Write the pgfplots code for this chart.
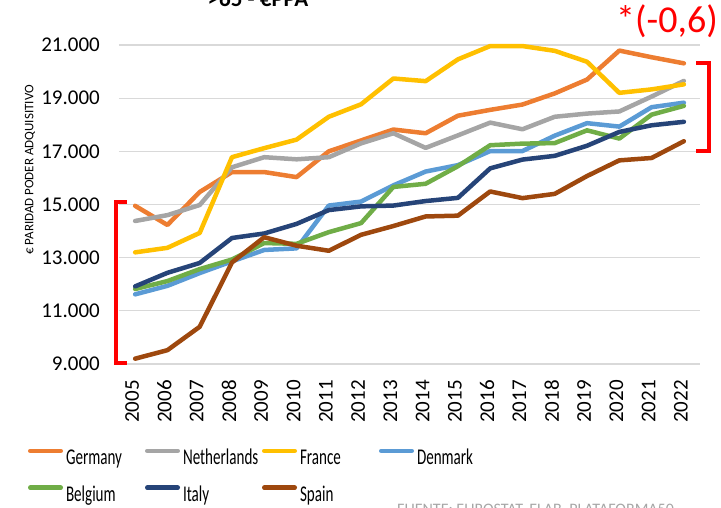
\documentclass[border=0pt]{standalone}
\usepackage{pgfplots}
\pgfplotsset{compat=1.18}
\usepackage{fontspec}
\setmainfont{Carlito}
\newfontfamily\legfont[FakeStretch=0.67]{Carlito}
\definecolor{cGer}{HTML}{ED7D31}
\definecolor{cNet}{HTML}{A5A5A5}
\definecolor{cFra}{HTML}{FFC000}
\definecolor{cDen}{HTML}{5B9BD5}
\definecolor{cBel}{HTML}{70AD47}
\definecolor{cIta}{HTML}{264478}
\definecolor{cSpa}{HTML}{9E480E}
\definecolor{gridgray}{HTML}{D9D9D9}
\definecolor{srcgray}{HTML}{A6A6A6}
\begin{document}
\begin{tikzpicture}[x=1pt,y=1pt]
\begin{axis}[
  at={(119pt,143pt)}, anchor=south west,
  width=581pt, height=319pt, scale only axis,
  xmin=2004.5, xmax=2022.5, ymin=9000, ymax=21000,
  axis line style={draw=none},
  clip=false,
  scaled y ticks=false,
  ytick={9000,11000,13000,15000,17000,19000,21000},
  yticklabels={9.000,11.000,13.000,15.000,17.000,19.000,21.000},
  xtick={2005,2006,2007,2008,2009,2010,2011,2012,2013,2014,2015,2016,2017,2018,2019,2020,2021,2022},
  xticklabels={2005,2006,2007,2008,2009,2010,2011,2012,2013,2014,2015,2016,2017,2018,2019,2020,2021,2022},
  major tick length=0pt,
  ymajorgrids,
  grid style={color=gridgray, line width=1.3pt},
  tick label style={font=\fontsize{21}{21}\selectfont},
  yticklabel style={xshift=-19pt, anchor=east, inner sep=0pt},
  xticklabel style={yshift=-16pt, xshift=-3pt, rotate=90, anchor=east, inner sep=0pt},
  every axis plot/.append style={line width=4.5pt, line join=round, line cap=round},
  legend columns=4,
  legend style={at={(axis description cs:-0.1566,-0.351)}, anchor=west,
    draw=none, fill=none, inner sep=0pt, outer sep=0pt, row sep=19pt,
    nodes={inner sep=0pt},
    font=\legfont\fontsize{22.5}{22.5}\selectfont,
    /tikz/every odd column/.append style={column sep=3pt},
    /tikz/every even column/.append style={column sep=0pt}},
  legend image code/.code={\draw[#1, line width=4.5pt, line cap=round] (2.25pt,7pt) -- (32.75pt,7pt);},
]
\addplot[cGer] coordinates {(2005,14950)(2006,14230)(2007,15470)(2008,16220)(2009,16220)(2010,16030)(2011,17000)(2012,17410)(2013,17820)(2014,17680)(2015,18340)(2016,18560)(2017,18760)(2018,19180)(2019,19700)(2020,20790)(2021,20540)(2022,20310)};
\addlegendentry{\makebox[79pt][l]{Germany}}
\addplot[cNet] coordinates {(2005,14380)(2006,14600)(2007,14980)(2008,16400)(2009,16780)(2010,16700)(2011,16780)(2012,17300)(2013,17680)(2014,17130)(2015,17600)(2016,18080)(2017,17830)(2018,18300)(2019,18420)(2020,18500)(2021,19060)(2022,19650)};
\addlegendentry{\makebox[79pt][l]{Netherlands}}
\addplot[cFra] coordinates {(2005,13200)(2006,13370)(2007,13930)(2008,16780)(2009,17120)(2010,17440)(2011,18300)(2012,18770)(2013,19740)(2014,19640)(2015,20460)(2016,20960)(2017,20960)(2018,20780)(2019,20370)(2020,19200)(2021,19330)(2022,19520)};
\addlegendentry{\makebox[79pt][l]{France}}
\addplot[cDen] coordinates {(2005,11620)(2006,11940)(2007,12420)(2008,12860)(2009,13290)(2010,13350)(2011,14960)(2012,15110)(2013,15720)(2014,16240)(2015,16480)(2016,17010)(2017,17010)(2018,17590)(2019,18060)(2020,17930)(2021,18660)(2022,18830)};
\addlegendentry{\makebox[79pt][l]{Denmark}}
\addplot[cBel] coordinates {(2005,11820)(2006,12120)(2007,12570)(2008,12930)(2009,13550)(2010,13520)(2011,13960)(2012,14300)(2013,15660)(2014,15780)(2015,16440)(2016,17230)(2017,17290)(2018,17310)(2019,17790)(2020,17480)(2021,18380)(2022,18710)};
\addlegendentry{\makebox[79pt][l]{Belgium}}
\addplot[cIta] coordinates {(2005,11920)(2006,12430)(2007,12800)(2008,13740)(2009,13910)(2010,14270)(2011,14790)(2012,14930)(2013,14960)(2014,15130)(2015,15250)(2016,16360)(2017,16690)(2018,16830)(2019,17210)(2020,17730)(2021,17980)(2022,18110)};
\addlegendentry{\makebox[79pt][l]{Italy}}
\addplot[cSpa] coordinates {(2005,9200)(2006,9520)(2007,10400)(2008,12820)(2009,13770)(2010,13450)(2011,13260)(2012,13860)(2013,14190)(2014,14550)(2015,14580)(2016,15490)(2017,15240)(2018,15400)(2019,16070)(2020,16660)(2021,16750)(2022,17380)};
\addlegendentry{\makebox[79pt][l]{Spain}}
\end{axis}
% annotations
\draw[red, line width=4pt] (127,305) -- (116,305) -- (116,144) -- (127,144);
\draw[red, line width=4pt] (696,444.3) -- (709,444.3) -- (709,356) -- (696,356);
\node[rotate=90, font=\fontsize{13}{13}\selectfont, inner sep=0pt] at (30,337) {€ PARIDAD PODER ADQUISITIVO};
\node[anchor=base, font=\bfseries\fontsize{23}{23}\selectfont, inner sep=0pt] at (258,500) {>65 - €PPA};
\node[anchor=base east, text=red, font=\fontsize{38}{38}\selectfont, inner sep=0pt] at (718,474) {*(-0,6)};
\node[anchor=base west, inner sep=0pt, text=srcgray, font=\fontsize{16}{16}\selectfont] at (397,-7.5) {FUENTE: EUROSTAT. ELAB. PLATAFORMA50};
\pgfresetboundingbox
\path[use as bounding box] (0,0) rectangle (721,507);
\end{tikzpicture}
\end{document}
